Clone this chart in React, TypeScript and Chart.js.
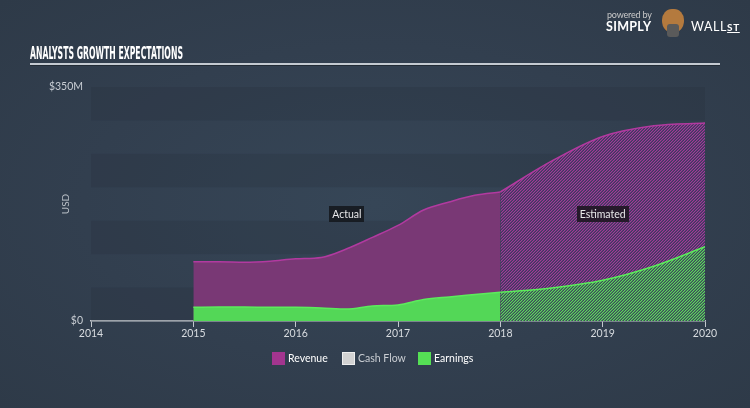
import React, { useEffect, useRef } from "react";
import { Chart, registerables } from "chart.js";

Chart.register(...registerables);

// ---- data ----
const actualYears = [2015, 2015.25, 2015.5, 2015.75, 2016, 2016.25, 2016.5, 2016.75, 2017, 2017.25, 2017.5, 2017.75, 2018];
const actualRevenue = [88.5, 88.5, 88, 89.5, 93, 95, 108, 125, 143, 166, 178, 188, 193];
const actualEarnings = [20.5, 21, 21, 20.5, 20.5, 19.5, 18, 22.5, 24, 32, 36, 39.5, 43];

const estimateYears = [2018, 2018.5, 2019, 2019.5, 2020];
const estimateRevenue = [193, 239, 276, 292, 296];
const estimateEarnings = [43, 49.5, 61, 82, 111];

const xTickYears = [2014, 2015, 2016, 2017, 2018, 2019, 2020];
const yTickValues = [0, 350];
const bandRanges = [[0, 50], [100, 150], [200, 250], [300, 350]];

const legendItems = [
  { label: "Revenue", color: "#a3358f", text: "#ffffff", left: 272 },
  { label: "Cash Flow", color: "#d2d2d2", text: "#c9cdd2", left: 342 },
  { label: "Earnings", color: "#55e055", text: "#ffffff", left: 418 },
];

const FONT = "Lato, 'Open Sans', sans-serif";

function zip(xs: number[], ys: number[]) {
  return xs.map((x, i) => ({ x, y: ys[i] }));
}

function makeHatch(ctx: CanvasRenderingContext2D, line: string, mid: string, bg: string) {
  const c = document.createElement("canvas");
  c.width = 3;
  c.height = 3;
  const g = c.getContext("2d")!;
  for (let x = 0; x < 3; x++) {
    for (let y = 0; y < 3; y++) {
      const d = (x + y) % 3;
      g.fillStyle = d === 2 ? line : d === 0 ? mid : bg;
      g.fillRect(x, y, 1, 1);
    }
  }
  return ctx.createPattern(c, "repeat")!;
}

const bandsPlugin = {
  id: "bands",
  beforeDatasetsDraw(chart: any) {
    const { ctx, chartArea, scales } = chart;
    ctx.save();
    ctx.fillStyle = "rgba(36,46,60,0.24)";
    bandRanges.forEach(([a, b]) => {
      const y1 = scales.y.getPixelForValue(b);
      const y2 = scales.y.getPixelForValue(a);
      ctx.fillRect(chartArea.left, y1, chartArea.right - chartArea.left, y2 - y1);
    });
    ctx.restore();
  },
};

const periodLabelsPlugin = {
  id: "periodLabels",
  afterDatasetsDraw(chart: any) {
    const { ctx, scales } = chart;
    const items = [
      { text: "Actual", x: (actualYears[0] + actualYears[actualYears.length - 1]) / 2, bg: "rgba(22,26,32,0.92)" },
      { text: "Estimated", x: (estimateYears[0] + estimateYears[estimateYears.length - 1]) / 2, bg: "rgba(30,22,34,0.9)" },
    ];
    ctx.save();
    ctx.font = `10.5px ${FONT}`;
    ctx.textAlign = "center";
    ctx.textBaseline = "middle";
    items.forEach((it) => {
      const px = scales.x.getPixelForValue(it.x);
      const py = scales.y.getPixelForValue(160);
      const w = ctx.measureText(it.text).width + 6;
      const h = 16;
      ctx.fillStyle = it.bg;
      ctx.fillRect(Math.round(px - w / 2), Math.round(py - h / 2), Math.round(w), h);
      ctx.fillStyle = "#e8e8ea";
      ctx.fillText(it.text, px, py + 0.5);
    });
    ctx.restore();
  },
};

export default function App() {
  const canvasRef = useRef<HTMLCanvasElement>(null);
  const titleRef = useRef<HTMLSpanElement>(null);

  useEffect(() => {
    if (titleRef.current) {
      const w = titleRef.current.offsetWidth;
      if (w > 0) titleRef.current.style.transform = `scaleX(${153 / w})`;
    }
    const canvas = canvasRef.current!;
    const ctx = canvas.getContext("2d")!;
    const revHatch = makeHatch(ctx, "#a03c97", "#683674", "#3c3a60");
    const earnHatch = makeHatch(ctx, "#5cd65c", "#4a8a5a", "#3c4a5a");

    const chart = new Chart(canvas, {
      type: "line",
      data: {
        datasets: [
          {
            label: "Earnings",
            data: zip(actualYears, actualEarnings),
            borderColor: "#5cec5c",
            backgroundColor: "#53d757",
            borderWidth: 1.5,
            fill: "origin",
            pointRadius: 0,
            cubicInterpolationMode: "monotone",
            order: 0,
          },
          {
            label: "Earnings estimate",
            data: zip(estimateYears, estimateEarnings),
            borderColor: "#5cec5c",
            backgroundColor: earnHatch,
            borderWidth: 1.5,
            fill: "origin",
            pointRadius: 0,
            cubicInterpolationMode: "monotone",
            order: 0,
          },
          {
            label: "Revenue",
            data: zip(actualYears, actualRevenue),
            borderColor: "#b23aa0",
            backgroundColor: "#793875",
            borderWidth: 1.5,
            fill: "origin",
            pointRadius: 0,
            cubicInterpolationMode: "monotone",
            order: 1,
          },
          {
            label: "Revenue estimate",
            data: zip(estimateYears, estimateRevenue),
            borderColor: "#b23aa0",
            backgroundColor: revHatch,
            borderWidth: 1.5,
            fill: "origin",
            pointRadius: 0,
            cubicInterpolationMode: "monotone",
            order: 1,
          },
        ],
      },
      options: {
        animation: false,
        responsive: false,
        devicePixelRatio: 1,
        layout: { padding: { top: 87, right: 45, bottom: 67, left: 0 } },
        plugins: {
          legend: { display: false },
          tooltip: { enabled: false },
        },
        scales: {
          x: {
            type: "linear",
            min: xTickYears[0],
            max: xTickYears[xTickYears.length - 1],
            afterBuildTicks: (scale: any) => {
              scale.ticks = xTickYears.map((v) => ({ value: v }));
            },
            afterFit: (scale: any) => {
              scale.height = 20;
            },
            ticks: {
              callback: (v: any) => String(v),
              color: "#d8dce0",
              font: { family: FONT, size: 10.5 },
              padding: 0,
              maxRotation: 0,
            },
            grid: {
              display: true,
              drawOnChartArea: false,
              drawTicks: true,
              tickLength: 6,
              color: "#c3c8ce",
              lineWidth: 1,
            },
            border: { display: true, color: "#c3c8ce", width: 1.5 },
          },
          y: {
            type: "linear",
            min: 0,
            max: 350,
            afterBuildTicks: (scale: any) => {
              scale.ticks = yTickValues.map((v) => ({ value: v }));
            },
            afterFit: (scale: any) => {
              scale.width = 91;
            },
            ticks: {
              callback: (v: any) => (v === 0 ? "$0" : `$${v}M`),
              color: "#c9ced4",
              font: { family: FONT, size: 10.5 },
              padding: 8,
            },
            grid: { display: false, drawTicks: false },
            border: { display: false },
          },
        },
      },
      plugins: [bandsPlugin, periodLabelsPlugin],
    } as any);
    return () => chart.destroy();
  }, []);

  return (
    <div
      style={{
        position: "fixed",
        left: 0,
        top: 0,
        width: 750,
        height: 408,
        overflow: "hidden",
        background: "radial-gradient(ellipse at 50% 50%, #364657 0%, #323f4f 55%, #2e3a48 100%)",
        fontFamily: FONT,
      }}
    >
      <canvas ref={canvasRef} width={750} height={408} style={{ position: "absolute", left: 0, top: 0 }} />
      <span
        ref={titleRef}
        style={{
          position: "absolute",
          left: 30,
          top: 43,
          fontFamily: "'DejaVu Sans Condensed', 'Liberation Sans Narrow', sans-serif",
          fontWeight: "bold",
          fontSize: 17,
          lineHeight: "20px",
          color: "#ffffff",
          whiteSpace: "nowrap",
          transformOrigin: "left top",
          display: "inline-block",
        }}
      >
        ANALYSTS GROWTH EXPECTATIONS
      </span>
      <div style={{ position: "absolute", left: 30, top: 63, width: 690, height: 2, background: "#c4cad1" }} />
      <div style={{ position: "absolute", left: 30, top: 65, width: 690, height: 1, background: "#222b35" }} />

      <div style={{ position: "absolute", left: 607, top: 9, fontSize: 9, color: "#c9c9c9", letterSpacing: -0.2 }}>powered by</div>
      <div style={{ position: "absolute", left: 606, top: 19, fontSize: 12.5, fontWeight: "bold", color: "#ffffff", letterSpacing: 0.3 }}>SIMPLY</div>
      <div
        style={{
          position: "absolute",
          left: 662,
          top: 9,
          width: 22,
          height: 24,
          borderRadius: "45% 45% 50% 50%",
          background: "#b47a3e",
        }}
      />
      <div style={{ position: "absolute", left: 667, top: 24, width: 12, height: 13, borderRadius: 3, background: "#5a5a5a" }} />
      <div style={{ position: "absolute", left: 691, top: 19, fontSize: 12.5, color: "#ffffff", letterSpacing: 0.6 }}>
        WALL<span style={{ fontSize: 10, fontWeight: "bold", textDecoration: "underline" }}>ST</span>
      </div>

      <div
        style={{
          position: "absolute",
          left: 50,
          top: 198,
          fontSize: 10,
          color: "#b9bfc6",
          transform: "rotate(-90deg)",
          transformOrigin: "center center",
          width: 30,
          textAlign: "center",
        }}
      >
        USD
      </div>

      {legendItems.map((it) => (
        <div key={it.label} style={{ position: "absolute", left: it.left, top: 351, height: 14, display: "flex", alignItems: "center" }}>
          <div
            style={{
              width: 13,
              height: 13,
              background: it.color,
              boxSizing: "border-box",
              border: it.label === "Cash Flow" ? "1px solid #eeeeee" : "none",
            }}
          />
          <span style={{ marginLeft: 3, fontSize: 10.5, color: it.text, whiteSpace: "nowrap" }}>{it.label}</span>
        </div>
      ))}
    </div>
  );
}
